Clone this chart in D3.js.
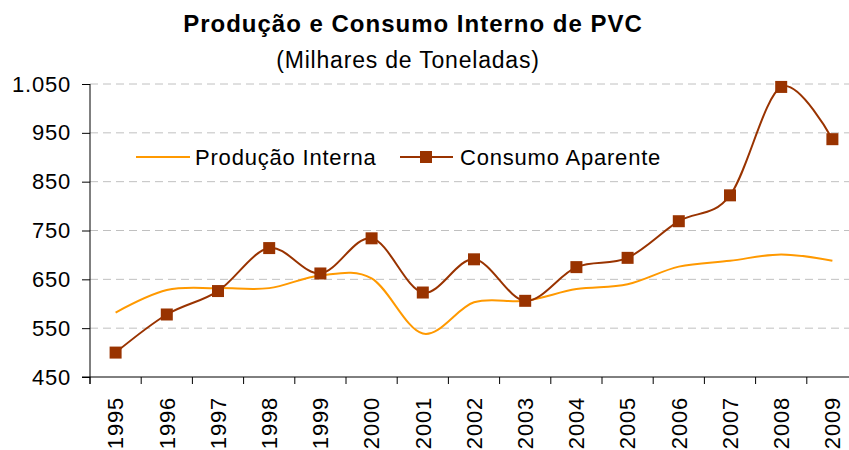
<!DOCTYPE html>
<html>
<head>
<meta charset="utf-8">
<script src="https://cdn.jsdelivr.net/npm/d3@7"></script>
<style>
  body { margin: 0; background: #fff; }
  svg { display: block; font-family: "Liberation Sans", Arial, sans-serif; }
</style>
</head>
<body>
<div id="chart"></div>
<script>
// Data
const years = ["1995", "1996", "1997", "1998", "1999", "2000", "2001", "2002",
               "2003", "2004", "2005", "2006", "2007", "2008", "2009"];
const producao = [582, 628, 632, 632, 658, 652, 539, 603, 606, 630, 640, 676, 688, 701, 688];
const consumo = [500, 578, 626, 714, 662, 734, 623, 691, 606, 675, 694, 769, 822, 1044, 937];
const yTicks = [450, 550, 650, 750, 850, 950, 1050];

const width = 849, height = 450;
const ptBR = d3.formatLocale({ decimal: ",", thousands: ".", grouping: [3], currency: ["R$", ""] });
const fmt = ptBR.format(",d");

const svg = d3.select("#chart").append("svg")
    .attr("width", width)
    .attr("height", height);

const x = d3.scaleBand().domain(years).range([90, 858]);
const y = d3.scaleLinear().domain([450, 1050]).range([377, 84]);
const cx = d => x(d) + x.bandwidth() / 2;

// Title
svg.append("text")
    .attr("x", 413).attr("y", 32)
    .attr("text-anchor", "middle")
    .style("font-size", "24px").style("font-weight", "bold")
    .style("letter-spacing", "1px")
    .text("Produção e Consumo Interno de PVC");
svg.append("text")
    .attr("x", 408).attr("y", 68)
    .attr("text-anchor", "middle")
    .style("font-size", "23px")
    .style("letter-spacing", "0.8px")
    .text("(Milhares de Toneladas)");

// Gridlines
svg.append("g").selectAll("line")
    .data(yTicks.slice(1))
    .join("line")
    .attr("x1", 90).attr("x2", width)
    .attr("y1", d => y(d)).attr("y2", d => y(d))
    .attr("stroke", "#c0c0c0")
    .attr("stroke-width", 1)
    .attr("stroke-dasharray", "8,5");

// Y axis
const yAxis = svg.append("g")
    .attr("transform", "translate(90,0)")
    .call(d3.axisLeft(y).tickValues(yTicks).tickSize(8).tickPadding(11).tickFormat(fmt));
yAxis.select(".domain").attr("d", "M0,84V384").attr("stroke", "#000");
yAxis.selectAll(".tick line").attr("stroke", "#000");
yAxis.selectAll("text")
    .style("font-size", "22px")
    .style("letter-spacing", "0.8px")
    .attr("fill", "#000");

// X axis
const xAxis = svg.append("g").attr("transform", "translate(0,377)");
xAxis.append("line")
    .attr("x1", 82).attr("x2", width)
    .attr("stroke", "#000");
xAxis.selectAll(".xtick")
    .data(years)
    .join("line")
    .attr("class", "xtick")
    .attr("x1", d => x(d)).attr("x2", d => x(d))
    .attr("y1", 0).attr("y2", 7)
    .attr("stroke", "#000");
xAxis.selectAll(".xlabel")
    .data(years)
    .join("text")
    .attr("class", "xlabel")
    .attr("transform", d => `translate(${cx(d)},20) rotate(-90)`)
    .attr("text-anchor", "end")
    .attr("dy", "0.35em")
    .style("font-size", "22px")
    .style("letter-spacing", "0.8px")
    .text(d => d);

// Lines
const smooth = d3.curveCardinal.tension(0);
const line = d3.line()
    .x((d, i) => cx(years[i]))
    .y(d => y(d))
    .curve(smooth);

svg.append("path")
    .datum(producao)
    .attr("d", line)
    .attr("fill", "none")
    .attr("stroke", "#ff9900")
    .attr("stroke-width", 2);

svg.append("path")
    .datum(consumo)
    .attr("d", line)
    .attr("fill", "none")
    .attr("stroke", "#993300")
    .attr("stroke-width", 2);

svg.append("g").selectAll("rect")
    .data(consumo)
    .join("rect")
    .attr("x", (d, i) => cx(years[i]) - 6)
    .attr("y", d => y(d) - 6)
    .attr("width", 12).attr("height", 12)
    .attr("fill", "#993300");

// Legend
const legend = svg.append("g").attr("transform", "translate(0,157)");
legend.append("line")
    .attr("x1", 136).attr("x2", 190)
    .attr("stroke", "#ff9900").attr("stroke-width", 2);
legend.append("text")
    .attr("x", 195).attr("dy", "0.35em")
    .style("font-size", "22px")
    .style("letter-spacing", "0.8px")
    .text("Produção Interna");
legend.append("line")
    .attr("x1", 400).attr("x2", 453)
    .attr("stroke", "#993300").attr("stroke-width", 2);
legend.append("rect")
    .attr("x", 420).attr("y", -6)
    .attr("width", 12).attr("height", 12)
    .attr("fill", "#993300");
legend.append("text")
    .attr("x", 460).attr("dy", "0.35em")
    .style("font-size", "22px")
    .style("letter-spacing", "0.8px")
    .text("Consumo Aparente");
</script>
</body>
</html>
